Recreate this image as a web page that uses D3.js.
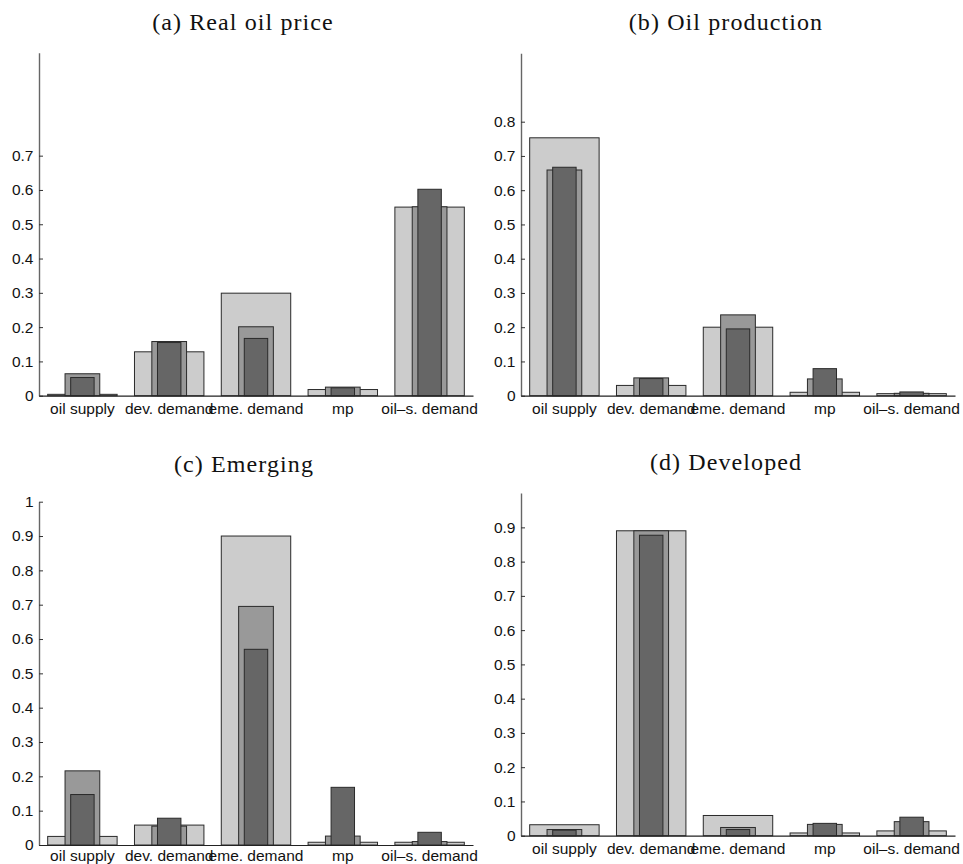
<!DOCTYPE html>
<html>
<head>
<meta charset="utf-8">
<script src="https://cdn.jsdelivr.net/npm/d3@7"></script>
<style>
  html, body { margin: 0; padding: 0; background: #fff; }
  svg { display: block; }
</style>
</head>
<body>
<svg id="chart" width="963" height="864"></svg>
<script>
// Shock categories shared by every panel
const categories = ["oil supply", "dev. demand", "eme. demand", "mp", "oil\u2013s. demand"];

// (a) Real oil price: wide, middle and narrow bars per shock
const priceWide   = [0.004, 0.128, 0.299, 0.018, 0.550];
const priceMid    = [0.064, 0.158, 0.201, 0.025, 0.551];
const priceNarrow = [0.053, 0.155, 0.167, 0.023, 0.602];
const priceTicks  = [0, 0.1, 0.2, 0.3, 0.4, 0.5, 0.6, 0.7];

// (b) Oil production
const prodWide   = [0.753, 0.030, 0.200, 0.010, 0.006];
const prodMid    = [0.659, 0.052, 0.236, 0.049, 0.007];
const prodNarrow = [0.667, 0.050, 0.195, 0.079, 0.011];
const prodTicks  = [0, 0.1, 0.2, 0.3, 0.4, 0.5, 0.6, 0.7, 0.8];

// (c) Emerging
const emergWide   = [0.025, 0.058, 0.900, 0.008, 0.008];
const emergMid    = [0.216, 0.055, 0.695, 0.026, 0.010];
const emergNarrow = [0.147, 0.078, 0.570, 0.168, 0.037];
const emergTicks  = [0, 0.1, 0.2, 0.3, 0.4, 0.5, 0.6, 0.7, 0.8, 0.9, 1];

// (d) Developed
const develWide   = [0.032, 0.890, 0.059, 0.008, 0.014];
const develMid    = [0.018, 0.890, 0.024, 0.033, 0.041];
const develNarrow = [0.016, 0.877, 0.018, 0.036, 0.054];
const develTicks  = [0, 0.1, 0.2, 0.3, 0.4, 0.5, 0.6, 0.7, 0.8, 0.9];

const titles = ["(a) Real oil price", "(b) Oil production", "(c) Emerging", "(d) Developed"];

// Panel geometry (pixels)
const panels = [
  { title: titles[0], wide: priceWide, mid: priceMid, narrow: priceNarrow, ticks: priceTicks,
    x0: 39,  x1: 473, yBottom: 395.7, yTop: 52.8,  titleX: 243, titleY: 30,    labelPad: 7.5 },
  { title: titles[1], wide: prodWide,  mid: prodMid,  narrow: prodNarrow,  ticks: prodTicks,
    x0: 521, x1: 955, yBottom: 395.7, yTop: 53.2,  titleX: 726, titleY: 29.5,  labelPad: 7.5 },
  { title: titles[2], wide: emergWide, mid: emergMid, narrow: emergNarrow, ticks: emergTicks,
    x0: 39,  x1: 473, yBottom: 845,   yTop: 501.7, titleX: 244, titleY: 471.7, labelPad: 4.5 },
  { title: titles[3], wide: develWide, mid: develMid, narrow: develNarrow, ticks: develTicks,
    x0: 521, x1: 955, yBottom: 835.7, yTop: 493.1, titleX: 726, titleY: 470,   labelPad: 7.5 }
];

// Bar layers, drawn back to front; width is a fraction of the category step
const layers = [
  { key: "wide",   frac: 0.80, fill: "#cccccc" },
  { key: "mid",    frac: 0.40, fill: "#999999" },
  { key: "narrow", frac: 0.27, fill: "#666666" }
];

const sansFont = "'Liberation Sans', Arial, Helvetica, sans-serif";
const serifFont = "'Liberation Serif', 'Times New Roman', serif";

const svg = d3.select("#chart");
const fmt = t => String(+t.toFixed(1));

function styleLabels(sel) {
  sel.attr("font-family", null).attr("font-size", null);
  sel.selectAll("text")
    .style("font-family", sansFont)
    .style("font-size", "15.5px")
    .style("fill", "#111");
}

panels.forEach(p => {
  const g = svg.append("g");

  const x = d3.scaleBand()
    .domain(categories)
    .range([p.x0, p.x1])
    .paddingInner(0.2)
    .paddingOuter(0.1);
  const step = x.step();

  const y = d3.scaleLinear().domain([0, 1]).range([p.yBottom, p.yTop]);

  layers.forEach(layer => {
    const vals = p[layer.key];
    g.append("g")
      .selectAll("rect")
      .data(categories.map((c, i) => ({ c, v: vals[i] })))
      .join("rect")
      .attr("x", d => x(d.c) + x.bandwidth() / 2 - layer.frac * step / 2)
      .attr("width", layer.frac * step)
      .attr("y", d => y(d.v))
      .attr("height", d => y(0) - y(d.v))
      .attr("fill", layer.fill)
      .attr("stroke", "#2a2a2a")
      .attr("stroke-width", 1);
  });

  // y axis with inward ticks
  const yAxis = g.append("g")
    .attr("transform", `translate(${p.x0},0)`)
    .call(d3.axisLeft(y).tickValues(p.ticks).tickFormat(fmt)
      .tickSizeInner(-4).tickSizeOuter(0).tickPadding(5.5));
  styleLabels(yAxis);
  yAxis.select(".domain").attr("stroke", "#666").attr("stroke-width", 1.4);
  yAxis.selectAll(".tick line").attr("stroke", "#333").attr("stroke-width", 1);

  // x axis with category labels
  const xAxis = g.append("g")
    .attr("transform", `translate(0,${p.yBottom})`)
    .call(d3.axisBottom(x).tickSize(0).tickPadding(p.labelPad));
  styleLabels(xAxis);
  xAxis.select(".domain").attr("stroke", "#222").attr("stroke-width", 1.2);

  g.append("text")
    .attr("x", p.titleX)
    .attr("y", p.titleY)
    .attr("text-anchor", "middle")
    .style("font-family", serifFont)
    .style("font-size", "24px")
    .style("letter-spacing", "1.1px")
    .style("fill", "#111")
    .text(p.title);
});
</script>
</body>
</html>
